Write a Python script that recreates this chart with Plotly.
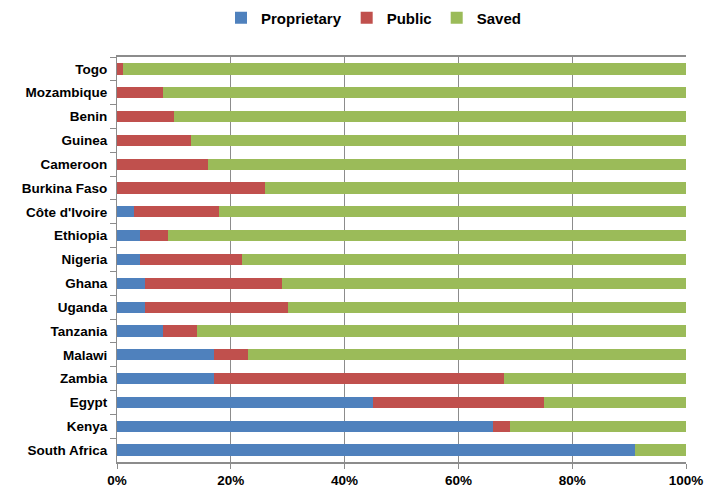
import plotly.graph_objects as go

countries = ["Togo", "Mozambique", "Benin", "Guinea", "Cameroon", "Burkina Faso",
             "Côte d'Ivoire", "Ethiopia", "Nigeria", "Ghana", "Uganda", "Tanzania",
             "Malawi", "Zambia", "Egypt", "Kenya", "South Africa"]
proprietary = [0, 0, 0, 0, 0, 0, 3, 4, 4, 5, 5, 8, 17, 17, 45, 66, 91]
public = [1, 8, 10, 13, 16, 26, 15, 5, 18, 24, 25, 6, 6, 51, 30, 3, 0]
saved = [100 - a - b for a, b in zip(proprietary, public)]

colors = {"Proprietary": "#4F81BD", "Public": "#C0504D", "Saved": "#9BBB59"}
font = dict(family="Liberation Sans, Arial, sans-serif", size=13.5, color="#000000",
            weight="bold")
legend_font = dict(font, size=15)
axis_grey = "#8C8C8C"

fig = go.Figure()
for name, vals in [("Proprietary", proprietary), ("Public", public), ("Saved", saved)]:
    fig.add_trace(go.Bar(
        y=countries, x=vals, name=name, orientation="h",
        marker=dict(color=colors[name], line=dict(width=0)),
    ))

fig.update_layout(
    barmode="stack",
    bargap=0.53,
    width=713, height=493,
    margin=dict(l=116.5, r=26.5, t=57, b=31, autoexpand=False),
    paper_bgcolor="white", plot_bgcolor="white",
    font=font,
    legend=dict(orientation="h", xref="container", yref="container",
                x=221 / 713, xanchor="left", y=1 - 18 / 493, yanchor="middle",
                font=legend_font, itemwidth=30, traceorder="normal",
                bgcolor="rgba(0,0,0,0)"),
    xaxis=dict(range=[0, 100], tickvals=[0, 20, 40, 60, 80, 100],
               ticktext=["0%", "20%", "40%", "60%", "80%", "100%"],
               showgrid=True, gridcolor=axis_grey, gridwidth=1,
               showline=True, linecolor=axis_grey, linewidth=1.5, mirror=True,
               ticks="outside", ticklen=5, tickcolor=axis_grey,
               zeroline=False, tickfont=font, automargin=False),
    yaxis=dict(categoryorder="array", categoryarray=countries, autorange="reversed",
               showline=True, linecolor=axis_grey, linewidth=1,
               ticks="outside", ticklen=6, tickcolor=axis_grey, tickson="boundaries",
               showgrid=False, tickfont=font, ticklabelstandoff=6, automargin=False),
)

fig.write_html("out.html")
